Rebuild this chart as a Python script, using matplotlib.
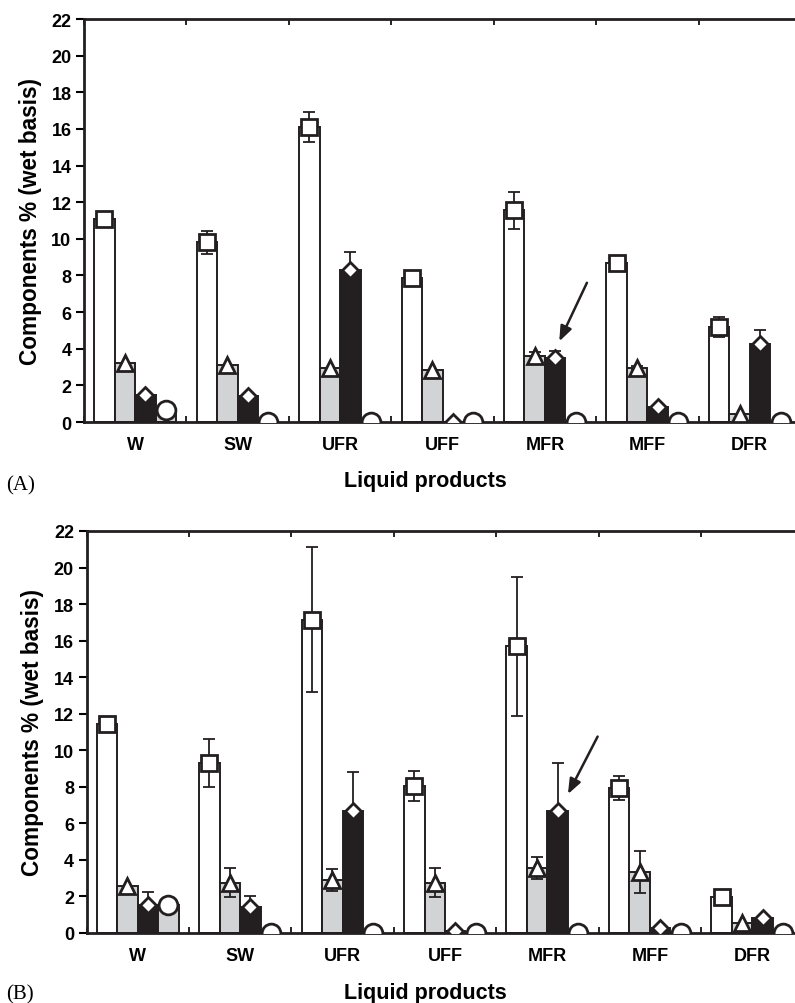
import matplotlib
matplotlib.use("Agg")
import matplotlib.pyplot as plt
import numpy as np

plt.rcParams['font.family'] = ['Liberation Sans', 'DejaVu Sans']

categories = ["W", "SW", "UFR", "UFF", "MFR", "MFF", "DFR"]

# panel A
a_square = [11.1, 9.8, 16.1, 7.85, 11.55, 8.7, 5.2]
a_square_err = [0.0, 0.65, 0.8, 0.15, 1.0, 0.0, 0.55]
a_triangle = [3.2, 3.1, 2.95, 2.85, 3.6, 2.95, 0.45]
a_triangle_err = [0.0, 0.0, 0.0, 0.0, 0.2, 0.1, 0.0]
a_diamond = [1.5, 1.4, 8.3, 0.0, 3.5, 0.8, 4.25]
a_diamond_err = [0.0, 0.0, 1.0, 0.0, 0.35, 0.0, 0.75]
a_circle = [0.65, 0.0, 0.0, 0.0, 0.0, 0.0, 0.0]

# panel B
b_square = [11.45, 9.3, 17.15, 8.05, 15.7, 7.95, 1.95]
b_square_err = [0.0, 1.3, 3.95, 0.8, 3.8, 0.65, 0.0]
b_triangle = [2.55, 2.75, 2.9, 2.75, 3.55, 3.35, 0.55]
b_triangle_err = [0.0, 0.8, 0.6, 0.8, 0.6, 1.15, 0.0]
b_diamond = [1.55, 1.45, 6.7, 0.1, 6.7, 0.3, 0.8]
b_diamond_err = [0.7, 0.6, 2.1, 0.0, 2.6, 0.0, 0.0]
b_circle = [1.55, 0.0, 0.0, 0.0, 0.0, 0.0, 0.0]

# arrow (tail, tip) in data coords
a_arrow = ((4.41, 7.6), (4.14, 4.4))
b_arrow = ((4.49, 10.75), (4.2, 7.6))

bar_colors = ["white", "#d1d3d4", "#231f20", "#d1d3d4"]
markers = ["s", "^", "D", "o"]
msizes = [12, 11, 8.5, 13.5]


def panel(ax, series, errs, arrow):
    x = np.arange(len(categories))
    w = 0.2
    offs = [-0.3, -0.1, 0.1, 0.3]
    for vals, err, col, off, mk, ms in zip(series, errs, bar_colors, offs, markers, msizes):
        ax.bar(x + off, vals, w, color=col, edgecolor="#231f20", linewidth=1.4, zorder=2)
        if err is not None:
            e = np.array(err)
            m = e > 0
            ax.errorbar((x + off)[m], np.array(vals)[m], yerr=e[m], fmt="none",
                        ecolor="#231f20", elinewidth=1.3, capsize=4.5, capthick=1.3, zorder=3)
        ax.plot(x + off, vals, mk, ms=ms, mfc="white", mec="#231f20", mew=2, zorder=4)

    ax.annotate("", xy=arrow[1], xytext=arrow[0],
                arrowprops=dict(arrowstyle="-|>,head_length=0.9,head_width=0.35",
                                color="#231f20", lw=1.8, shrinkA=0, shrinkB=0))

    ax.set_xlim(-0.5, len(categories) - 0.5)
    ax.set_ylim(0, 22)
    ax.set_yticks(np.arange(0, 23, 2))
    ax.set_xticks(np.arange(-0.5, len(categories), 1))
    ax.set_xticklabels([])
    ax.set_xticks(x, minor=True)
    ax.set_xticklabels(categories, minor=True, fontweight="bold", fontsize=13)
    ax.tick_params(axis="x", which="major", direction="in", length=4, width=1.2, top=True)
    ax.tick_params(axis="x", which="minor", length=0, pad=10)
    ax.tick_params(axis="y", direction="out", length=6, width=1.5, pad=3, labelsize=13)
    for lbl in ax.get_yticklabels():
        lbl.set_fontweight("bold")
    for s in ax.spines.values():
        s.set_linewidth(2)
        s.set_color("#231f20")
    ax.set_ylabel("Components % (wet basis)", fontsize=16.3, fontweight="bold", labelpad=7)


fig = plt.figure(figsize=(7.95, 10.04), dpi=100)
ax1 = fig.add_axes([84 / 795, 1 - 423 / 1004, 717 / 795, 403 / 1004])
ax2 = fig.add_axes([86.5 / 795, 1 - 934 / 1004, 717 / 795, 402 / 1004])

panel(ax1, [a_square, a_triangle, a_diamond, a_circle],
      [a_square_err, a_triangle_err, a_diamond_err, None], a_arrow)
panel(ax2, [b_square, b_triangle, b_diamond, b_circle],
      [b_square_err, b_triangle_err, b_diamond_err, None], b_arrow)

fig.text(425 / 795, 1 - 481 / 1004, "Liquid products", ha="center", va="center",
         fontsize=15.5, fontweight="bold")
fig.text(425 / 795, 1 - 994 / 1004, "Liquid products", ha="center", va="center",
         fontsize=15.5, fontweight="bold")
fig.text(6 / 795, 1 - 486 / 1004, "(A)", ha="left", va="center",
         fontsize=15, family="Liberation Serif")
fig.text(6 / 795, 1 - 995 / 1004, "(B)", ha="left", va="center",
         fontsize=15, family="Liberation Serif")

fig.savefig("out.png", dpi=100)
